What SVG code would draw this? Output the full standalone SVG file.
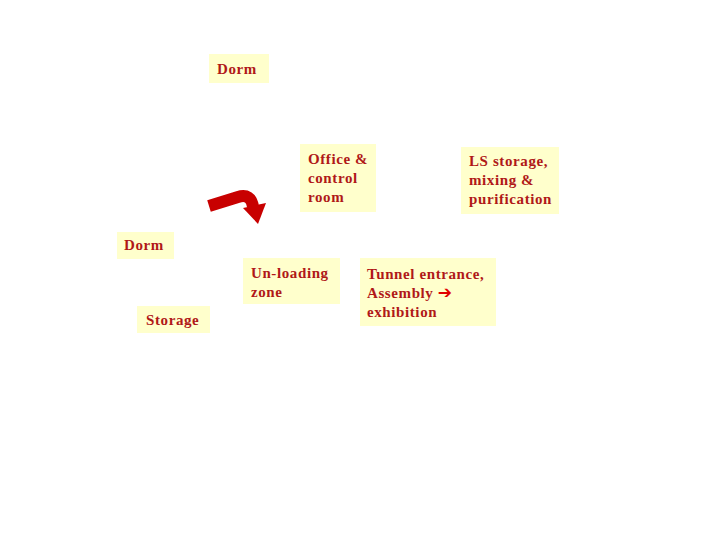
<svg xmlns="http://www.w3.org/2000/svg" width="720" height="540" viewBox="0 0 720 540">
<style>
.box{fill:#FFFFCC;}
.t{font-family:"Liberation Serif","Times New Roman",serif;font-size:15px;font-weight:bold;letter-spacing:0.6px;fill:#B01818;}
</style>
<rect width="720" height="540" fill="#FFFFFF"/>
<g id="dorm-top"><rect class="box" x="209" y="54" width="60" height="29"/><text class="t" x="217" y="74">Dorm</text></g>
<g id="office"><rect class="box" x="300" y="144" width="76" height="68"/><text class="t" x="308" y="164">Office &amp;</text><text class="t" x="308" y="183">control</text><text class="t" x="308" y="202">room</text></g>
<g id="ls"><rect class="box" x="461" y="147" width="98" height="67"/><text class="t" x="469" y="166">LS storage,</text><text class="t" x="469" y="185">mixing &amp;</text><text class="t" x="469" y="204">purification</text></g>
<g id="dorm-left"><rect class="box" x="117" y="232" width="57" height="27"/><text class="t" x="124" y="250">Dorm</text></g>
<g id="unloading"><rect class="box" x="243" y="258" width="97" height="46"/><text class="t" x="251" y="278">Un-loading</text><text class="t" x="251" y="297">zone</text></g>
<g id="tunnel"><rect class="box" x="360" y="258" width="136" height="68"/><text class="t" x="367" y="279">Tunnel entrance,</text><text class="t" x="367" y="298">Assembly <tspan style="font-family:'DejaVu Sans',sans-serif;font-size:17px;fill:#E00000">➔</tspan></text><text class="t" x="367" y="317">exhibition</text></g>
<g id="storage"><rect class="box" x="137" y="306" width="73" height="27"/><text class="t" x="146" y="325">Storage</text></g>
<g id="connectors">
<path d="M209,206 L238,197 Q251,193 253,207" fill="none" stroke="#C80000" stroke-width="12"/>
<polygon points="243,208 266,203 258,224" fill="#C80000"/>
</g>
</svg>
